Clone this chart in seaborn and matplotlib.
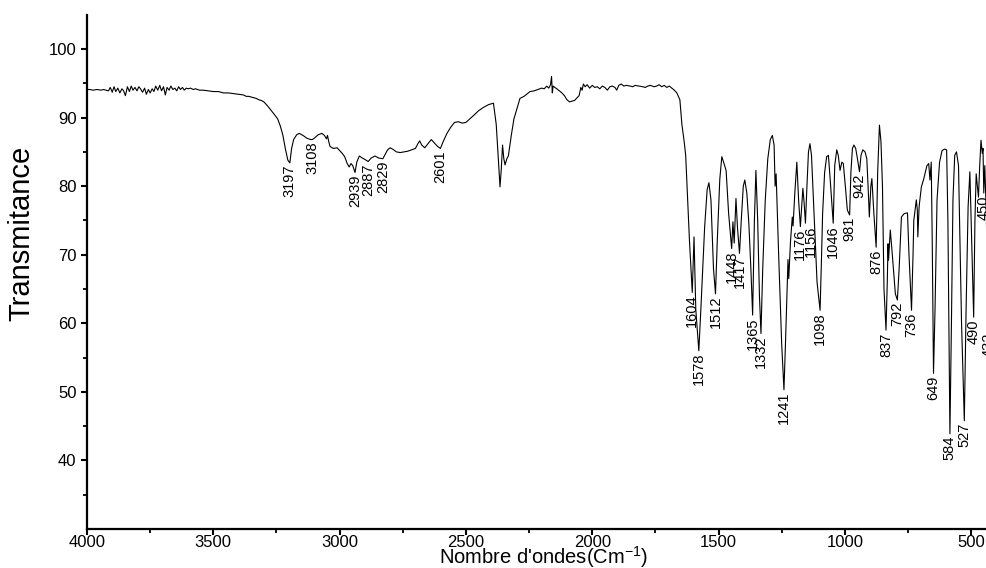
import matplotlib
matplotlib.use("Agg")
import matplotlib.pyplot as plt
from matplotlib import font_manager
import seaborn as sns
import pandas as pd

# ---------------- data ----------------
wavenumber = [
    4000, 3990, 3975, 3960, 3945, 3935, 3925, 3915, 3908, 3900, 3893, 3886, 3878, 3870,
    3862, 3855, 3848, 3840, 3832, 3825, 3818, 3810, 3802, 3795, 3788, 3780, 3772, 3765,
    3757, 3750, 3742, 3735, 3728, 3720, 3712, 3705, 3697, 3690, 3683, 3675, 3668, 3660,
    3652, 3645, 3637, 3630, 3622, 3615, 3607, 3600, 3590, 3580, 3570, 3555, 3540, 3520,
    3500, 3480, 3460, 3440, 3420, 3400, 3380, 3370, 3360, 3350, 3340, 3330, 3320, 3310,
    3300, 3285, 3270, 3255, 3245, 3235, 3225, 3215, 3205, 3197, 3190, 3182, 3170, 3160,
    3145, 3130, 3115, 3108, 3100, 3085, 3070, 3060, 3052, 3048, 3043, 3038, 3025, 3010,
    3000, 2990, 2980, 2970, 2962, 2955, 2948, 2939, 2932, 2922, 2910, 2900, 2887, 2875,
    2860, 2845, 2829, 2820, 2810, 2800, 2790, 2775, 2760, 2745, 2730, 2715, 2700, 2690,
    2683, 2675, 2663, 2650, 2637, 2625, 2612, 2601, 2590, 2575, 2560, 2545, 2530, 2515,
    2500, 2485, 2470, 2450, 2430, 2410, 2391, 2380, 2372, 2365, 2360, 2355, 2350, 2345,
    2338, 2332, 2320, 2310, 2299, 2286, 2270, 2246, 2230, 2215, 2200, 2190, 2180, 2172,
    2165, 2161, 2158, 2155, 2148, 2140, 2130, 2120, 2110, 2100, 2090, 2080, 2070, 2060,
    2052, 2045, 2040, 2035, 2028, 2020, 2010, 2000, 1990, 1980, 1970, 1960, 1950, 1940,
    1930, 1920, 1910, 1903, 1895, 1885, 1875, 1865, 1850, 1840, 1830, 1815, 1800, 1790,
    1780, 1770, 1755, 1745, 1735, 1725, 1715, 1705, 1695, 1685, 1675, 1665, 1658, 1653,
    1645, 1636, 1630, 1615, 1604, 1597, 1590, 1578, 1570, 1555, 1545, 1538, 1530, 1520,
    1512, 1505, 1495, 1487, 1480, 1470, 1460, 1448, 1443, 1438, 1431, 1425, 1417, 1410,
    1402, 1396, 1388, 1380, 1372, 1365, 1358, 1352, 1345, 1338, 1332, 1325, 1315, 1305,
    1295, 1287, 1280, 1276, 1272, 1262, 1250, 1241, 1235, 1228, 1225, 1222, 1215, 1208,
    1205, 1198, 1190, 1183, 1176, 1170, 1166, 1161, 1156, 1150, 1144, 1138, 1132, 1122,
    1110, 1098, 1092, 1088, 1080, 1072, 1065, 1058, 1046, 1040, 1032, 1026, 1019, 1012,
    1006, 998, 990, 981, 976, 970, 964, 957, 950, 942, 936, 929, 920, 913,
    908, 903, 897, 893, 885, 876, 870, 863, 857, 851, 845, 837, 832, 829,
    827, 820, 812, 800, 792, 785, 776, 765, 752, 746, 736, 730, 727, 717,
    713, 711, 706, 697, 688, 675, 668, 663, 658, 654, 649, 643, 635, 625,
    615, 605, 597, 592, 584, 578, 572, 565, 558, 550, 538, 527, 520, 512,
    505, 500, 490, 485, 480, 474, 471, 466, 461, 456, 453, 450, 446, 440,
    432, 426, 420,
]
transmittance = [
    94.1, 94.1, 94.0, 94.1, 94.0, 94.1, 94.0, 93.9, 94.4, 93.7, 94.5, 93.8, 94.3, 93.6,
    94.2, 93.9, 93.2, 94.5, 93.8, 94.6, 94.0, 94.4, 93.9, 94.5, 94.2, 93.7, 94.3, 93.4,
    94.1, 93.6, 94.2, 93.8, 94.6, 94.0, 94.7, 93.9, 94.5, 93.3, 94.4, 94.0, 94.6, 94.1,
    94.3, 93.9, 94.5, 94.1, 94.4, 94.0, 94.3, 94.2, 94.3, 94.1, 94.2, 94.0, 94.0, 93.9,
    93.8, 93.8, 93.6, 93.6, 93.5, 93.4, 93.3, 93.1, 93.1, 93.0, 92.9, 92.8, 92.6, 92.5,
    92.3, 91.7, 91.0, 90.3, 89.8, 88.8, 87.5, 85.5, 83.8, 83.4, 85.5, 86.8, 87.5, 87.7,
    87.4, 87.0, 86.8, 86.8, 87.0, 87.5, 87.7, 87.4, 86.9, 87.4, 86.5, 85.8, 85.5, 85.6,
    85.2, 84.8, 84.3, 83.3, 82.8, 83.3, 83.0, 82.0, 83.5, 84.4, 84.1, 83.9, 83.6, 84.1,
    84.4, 84.1, 84.0, 84.6, 85.3, 85.6, 85.4, 85.0, 84.9, 85.0, 85.1, 85.3, 85.5, 86.2,
    86.6, 86.0, 85.6, 86.2, 86.8, 86.3, 85.8, 85.5, 86.5, 87.7, 88.6, 89.3, 89.4, 89.2,
    89.3, 89.8, 90.3, 91.0, 91.5, 91.9, 92.1, 89.0, 84.0, 79.9, 82.5, 86.0, 84.0, 83.1,
    84.0, 84.4, 87.5, 89.8, 91.2, 92.8, 93.1, 93.8, 93.9, 94.1, 94.3, 94.2, 94.6, 94.3,
    94.8, 96.0, 93.6, 94.6, 94.4, 94.2, 93.9, 93.6, 93.2, 92.6, 92.3, 92.4, 92.5, 92.9,
    93.2, 94.4, 94.0, 94.9, 94.5, 94.8, 94.3, 94.7, 94.4, 94.5, 94.2, 94.6, 94.4, 94.0,
    94.5, 94.6, 94.4, 94.0, 94.7, 94.9, 94.6, 94.7, 94.6, 94.5, 94.7, 94.6, 94.5, 94.4,
    94.6, 94.7, 94.5, 94.6, 94.8, 94.5, 94.7, 94.4, 94.6, 94.3, 94.0, 93.6, 93.0, 92.6,
    89.0, 86.5, 84.5, 72.0, 64.5, 72.6, 62.0, 56.0, 62.0, 74.0, 79.5, 80.5, 78.0, 68.0,
    64.3, 72.0, 81.0, 84.3, 83.5, 82.3, 76.0, 70.9, 74.8, 71.7, 78.2, 74.0, 70.2, 75.0,
    80.0, 80.9, 79.0, 74.6, 68.0, 61.2, 75.0, 82.3, 75.0, 64.0, 58.5, 68.0, 78.0, 84.0,
    86.8, 87.4, 86.0, 80.0, 81.8, 70.0, 57.0, 50.3, 57.0, 65.8, 69.3, 66.5, 72.0, 75.5,
    74.2, 79.0, 83.5, 78.0, 74.1, 77.5, 79.7, 77.5, 74.6, 80.0, 85.0, 86.2, 84.5, 76.0,
    66.0, 61.9, 70.0, 76.0, 82.0, 84.3, 84.5, 81.0, 74.6, 83.0, 85.3, 84.5, 82.3, 83.5,
    83.3, 80.0, 76.5, 75.8, 82.0, 85.5, 86.0, 85.5, 84.0, 82.1, 84.5, 85.3, 85.0, 84.0,
    80.0, 75.5, 80.0, 81.1, 76.0, 71.1, 82.0, 88.9, 86.5, 80.0, 65.0, 59.0, 66.0, 71.6,
    69.2, 73.6, 70.0, 64.3, 63.4, 68.0, 75.5, 76.0, 76.1, 70.0, 61.9, 70.0, 75.0, 78.0,
    76.5, 72.6, 77.0, 79.9, 81.0, 83.0, 83.3, 80.9, 83.5, 72.0, 52.7, 62.0, 78.0, 83.5,
    85.2, 85.4, 85.3, 75.0, 43.9, 60.0, 78.0, 84.5, 85.0, 83.0, 60.0, 45.8, 62.0, 77.0,
    82.1, 75.0, 60.9, 75.0, 81.8, 79.5, 78.4, 83.0, 86.7, 84.8, 85.5, 79.0, 83.0, 76.0,
    59.0, 68.0, 74.0,
]

peak_labels = ["3197", "3108", "2939", "2887", "2829", "2601", "1604", "1578", "1512",
               "1448", "1417", "1365", "1332", "1241", "1176", "1156", "1098", "1046",
               "981", "942", "876", "837", "792", "736", "649", "584", "527", "490",
               "450", "432"]
peak_wn = [3197, 3108, 2939, 2887, 2829, 2601, 1604, 1578, 1512, 1448, 1417, 1365, 1332,
           1241, 1176, 1156, 1098, 1046, 981, 942, 876, 837, 792, 736, 649, 584, 527, 490,
           450, 432]
peak_t = [83.4, 86.8, 82.0, 83.6, 84.0, 85.5, 64.5, 56.0, 64.3, 70.9, 70.2, 61.2, 58.5,
          50.3, 74.1, 74.6, 61.9, 74.6, 75.8, 82.1, 71.1, 59.0, 63.4, 61.9, 52.7, 43.9,
          45.8, 60.9, 79.0, 59.0]

x_ticks = [4000, 3500, 3000, 2500, 2000, 1500, 1000, 500]
y_ticks = [40, 50, 60, 70, 80, 90, 100]

# ---------------- styling ----------------
sns.set_style("ticks")
avail = {f.name for f in font_manager.fontManager.ttflist}
main_font = ["Liberation Sans", "Arial", "DejaVu Sans"]
narrow_font = (["Liberation Sans Narrow"] if "Liberation Sans Narrow" in avail else []) + main_font
plt.rcParams["font.family"] = main_font
plt.rcParams["mathtext.default"] = "regular"
plt.rcParams["text.color"] = "black"
plt.rcParams["axes.labelcolor"] = "black"

df = pd.DataFrame({"wn": wavenumber, "T": transmittance})

W, H = 986, 568
fig = plt.figure(figsize=(W / 100, H / 100), dpi=100)
ax_left, ax_right, ax_bottom, ax_top = 87, 996.4, 529, 14.75
ax = fig.add_axes([ax_left / W, 1 - ax_bottom / H, (ax_right - ax_left) / W,
                   (ax_bottom - ax_top) / H])

sns.lineplot(data=df, x="wn", y="T", sort=False, estimator=None, color="black",
             linewidth=0.8, ax=ax)

ax.set_xlim(4000, 400)
ax.set_ylim(30, 105)
ax.set_xticks(x_ticks)
ax.set_xticklabels([str(v) for v in x_ticks])
ax.set_yticks(y_ticks)
ax.set_xticks(range(3750, 400, -500), minor=True)
ax.set_yticks(range(35, 105, 10), minor=True)

for s in ["top", "right"]:
    ax.spines[s].set_visible(False)
for s in ["left", "bottom"]:
    ax.spines[s].set_linewidth(1.6)
    ax.spines[s].set_color("black")
ax.tick_params(which="major", direction="out", length=4.5, width=1.5, labelsize=12,
               color="black", labelcolor="black")
ax.tick_params(axis="x", which="major", pad=0)
ax.tick_params(axis="y", which="major", pad=3)
ax.tick_params(which="minor", direction="out", length=3, width=1.3, color="black")

aw, ah = ax_right - ax_left, ax_bottom - ax_top
ax.set_xlabel("Nombre d'ondes(Cm$^{-1}$)", fontsize=14.5, va="baseline", color="black")
ax.xaxis.set_label_coords((544 - ax_left) / aw, -(563.5 - ax_bottom) / ah)
ax.set_ylabel("Transmitance", fontsize=21, color="black")
ax.yaxis.set_label_coords((35 - ax_left) / aw, (ax_bottom - 233) / ah)

nudge = {"1156": 4}
for lab, x, y in zip(peak_labels, peak_wn, peak_t):
    ax.annotate(lab, xy=(x, y), xytext=(nudge.get(lab, 0), -1.5),
                textcoords="offset points", rotation=90, ha="center", va="top",
                fontsize=10.5, family=narrow_font, color="black", annotation_clip=False)

fig.savefig("out.png", dpi=100)
